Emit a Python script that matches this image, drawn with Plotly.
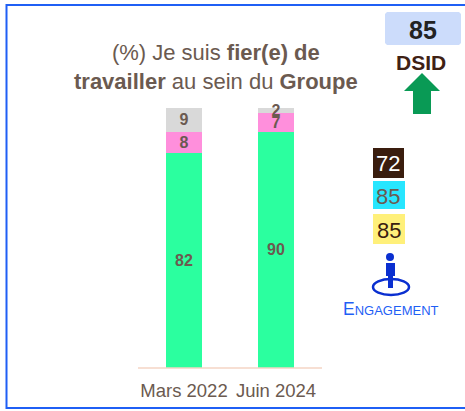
import plotly.graph_objects as go

W, H = 465, 411
categories = ["Mars 2022", "Juin 2024"]
favorable = [82, 90]
neutral = [8, 7]
unfavorable = [9, 2]
colors = ["#2BFF9F", "#FF8FDC", "#D9D9D9"]
overall = "85"
dsid = "DSID"
side_values = ["72", "85", "85"]
engagement = "E<span style='font-size:13px'>NGAGEMENT</span>"
title = "(%) Je suis <b>fier(e) de</b><br><b>travailler</b> au sein du <b>Groupe</b>"
TXT = "#6B5A50"
FONT = "Liberation Sans, Arial, sans-serif"

def X(p): return p / W
def Y(p): return 1 - p / H

fig = go.Figure()
for name, vals, c in zip(["Favorable", "Neutre", "Défavorable"], [favorable, neutral, unfavorable], colors):
    fig.add_bar(x=categories, y=vals, name=name, marker=dict(color=c, line_width=0), width=0.4,
                cliponaxis=False,
                text=vals, textposition="inside", insidetextanchor="middle", constraintext="none",
                textangle=0, textfont=dict(family=FONT, size=16, color=TXT, weight="bold"))

shapes = []
def rect(x0, y0, x1, y1, fill, line=None, lw=0, layer="below"):
    shapes.append(dict(type="rect", xref="paper", yref="paper", x0=X(x0), x1=X(x1), y0=Y(y0), y1=Y(y1),
                       fillcolor=fill, line=dict(color=line or fill, width=lw), layer=layer))
def path(pts, fill):
    d = "M" + " L".join(f"{X(a):.5f},{Y(b):.5f}" for a, b in pts) + " Z"
    shapes.append(dict(type="path", xref="paper", yref="paper", path=d, fillcolor=fill, line_width=0, layer="above"))

rect(6.5, 5, 480, 408, "rgba(0,0,0,0)", "#1F5FF5", 2)
# baseline
shapes.append(dict(type="line", xref="paper", yref="paper", x0=X(138), x1=X(322), y0=Y(368), y1=Y(368),
                   line=dict(color="#F5D5C5", width=1.5), layer="above"))
# overall box
shapes.append(dict(type="path", xref="paper", yref="paper", fillcolor="#CCDCFB", line_width=0, layer="below",
    path=f"M{X(387):.5f},{Y(12):.5f} L{X(459):.5f},{Y(12):.5f} L{X(461):.5f},{Y(14):.5f} L{X(461):.5f},{Y(43):.5f} "
         f"L{X(459):.5f},{Y(45):.5f} L{X(387):.5f},{Y(45):.5f} L{X(385):.5f},{Y(43):.5f} L{X(385):.5f},{Y(14):.5f} Z"))
# arrow
path([(422, 73), (440, 91), (431, 91), (431, 114), (413, 114), (413, 91), (404, 91)], "#099A55")
# side boxes
rect(373, 148, 404, 178, "#3A1D0E")
rect(373, 181, 405, 209, "#27E6FF")
rect(373, 214, 405, 244, "#FFF07A")
# engagement icon
shapes.append(dict(type="circle", xref="paper", yref="paper", x0=X(386), x1=X(394), y0=Y(253), y1=Y(261),
                   fillcolor="#0A2FD0", line_width=0))
shapes.append(dict(type="circle", xref="paper", yref="paper", x0=X(373), x1=X(409), y0=Y(279), y1=Y(295),
                   fillcolor="rgba(0,0,0,0)", line=dict(color="#0A2FD0", width=2.5)))
rect(386, 263, 395, 276, "#0A2FD0", layer="above")
rect(388, 276, 393, 288, "#0A2FD0", layer="above")

def note(x, y, text, size, color, bold=False):
    fig.add_annotation(xref="paper", yref="paper", x=X(x), y=Y(y), text=text, showarrow=False,
                       xanchor="center", yanchor="middle", align="center",
                       font=dict(family=FONT, size=size, color=color, weight="bold" if bold else "normal"))

note(216, 67, title, 22, TXT)
note(423, 30, overall, 25, "#222222", True)
note(421, 62, dsid, 21, "#3F2114", True)
note(388, 164, side_values[0], 22, "#FFFFFF")
note(388, 196, side_values[1], 22, TXT)
note(389, 230, side_values[2], 22, "#3A2010")
note(391, 309, engagement, 17.5, "#1F5FF5")

fig.update_layout(
    width=W, height=H, barmode="stack", bargap=0.6, showlegend=False,
    margin=dict(l=0, r=0, t=0, b=0), paper_bgcolor="white", plot_bgcolor="white",
    xaxis=dict(domain=[X(138), X(322)], showgrid=False, zeroline=False, showline=False, ticks="",
               tickfont=dict(family=FONT, size=18.5, color=TXT), ticklabelstandoff=9),
    yaxis=dict(domain=[Y(368), Y(108)], range=[0, 99], visible=False),
    shapes=shapes, font=dict(family=FONT),
)
fig.write_html("out.html", config={"displayModeBar": False},
               post_script="document.body.style.margin='0';document.documentElement.style.overflow='hidden';")
